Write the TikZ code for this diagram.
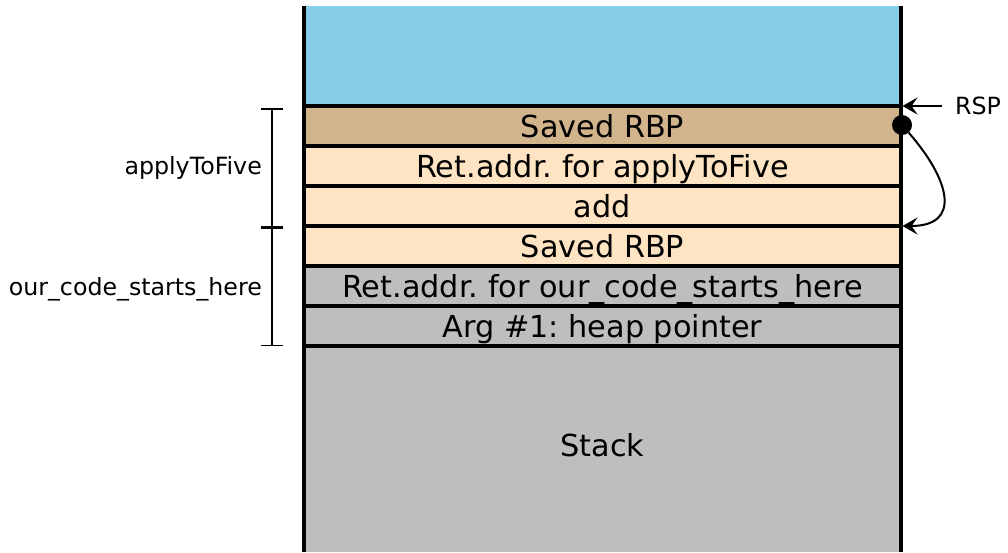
\documentclass[tikz,border=0pt]{standalone}
\usepackage{fontspec}
\setmainfont{DejaVu Sans}
\usetikzlibrary{arrows.meta}
\definecolor{skyblue}{RGB}{135,206,235}
\definecolor{tanbrown}{RGB}{210,180,140}
\definecolor{bisque}{RGB}{255,228,196}
\definecolor{stackgray}{RGB}{190,190,190}
\frenchspacing
\begin{document}
\begin{tikzpicture}[x=1pt, y=-1pt,
    frame/.style={line width=3.5pt},
    cell/.style={draw, frame, minimum width=597pt, minimum height=40pt,
      inner sep=0pt, outer sep=0pt, text height=22pt, text depth=0pt,
      font=\fontsize{30.3}{36}\selectfont},
    side/.style={font=\fontsize{23.7}{28}\selectfont, anchor=base east, inner sep=0pt},
    pointer/.style={-{Stealth[length=15pt, width=17pt, inset=6pt]}, line width=2pt}]

  \useasboundingbox (0,0) rectangle (1008,552);

  \node[fill=skyblue, minimum width=597pt, minimum height=100pt,
    inner sep=0pt, outer sep=0pt] (free) at (602.5,56) {};
  \fill[stackgray] (304,346) rectangle (901,552);
  \node[font=\fontsize{30.3}{36}\selectfont, anchor=base, inner sep=0pt] (stack) at (602.5,456) {Stack};

  \node[cell, fill=tanbrown] (rbpa) at (602.5,126) {Saved RBP};
  \node[cell, fill=bisque] (reta) at (602.5,166) {Ret.addr. for applyToFive};
  \node[cell, fill=bisque] (add) at (602.5,206) {add};
  \node[cell, fill=bisque] (rbpb) at (602.5,246) {Saved RBP};
  \node[cell, fill=stackgray] (retb) at (602.5,286) {Ret.addr. for our\_code\_starts\_here};
  \node[cell, fill=stackgray] (arg) at (602.5,326) {Arg \#1: heap pointer};

  \draw[frame] (free.north west) -- (304,552);
  \draw[frame] (free.north east) -- (901,552);

  % frames
  \coordinate (fa) at (272,108);
  \coordinate (fb) at (272,227);
  \coordinate (fc) at (272,346);
  \draw[{Bar[width=22pt]}-{Bar[width=22pt]}, line width=1.5pt] (fa) -- (fb);
  \draw[{Bar[width=22pt]}-{Bar[width=22pt]}, line width=1.5pt] (fb) -- (fc);
  \node[side] (apply) at (262,174) {applyToFive};
  \node[side] (ours) at (262,295) {our\_code\_starts\_here};

  % pointers
  \node[side, anchor=base west] (rsp) at (955,114) {RSP};
  \draw[pointer, shorten >=1.5pt] ([xshift=-13pt]rsp.west |- free.south east) -- (free.south east);
  \node[circle, fill, minimum size=20pt, inner sep=0pt] (dot) at (902,125) {};
  \draw[pointer, shorten >=1.5pt] (dot) .. controls (950,180) and (962,226) .. (rbpb.north east);

\end{tikzpicture}
\end{document}
